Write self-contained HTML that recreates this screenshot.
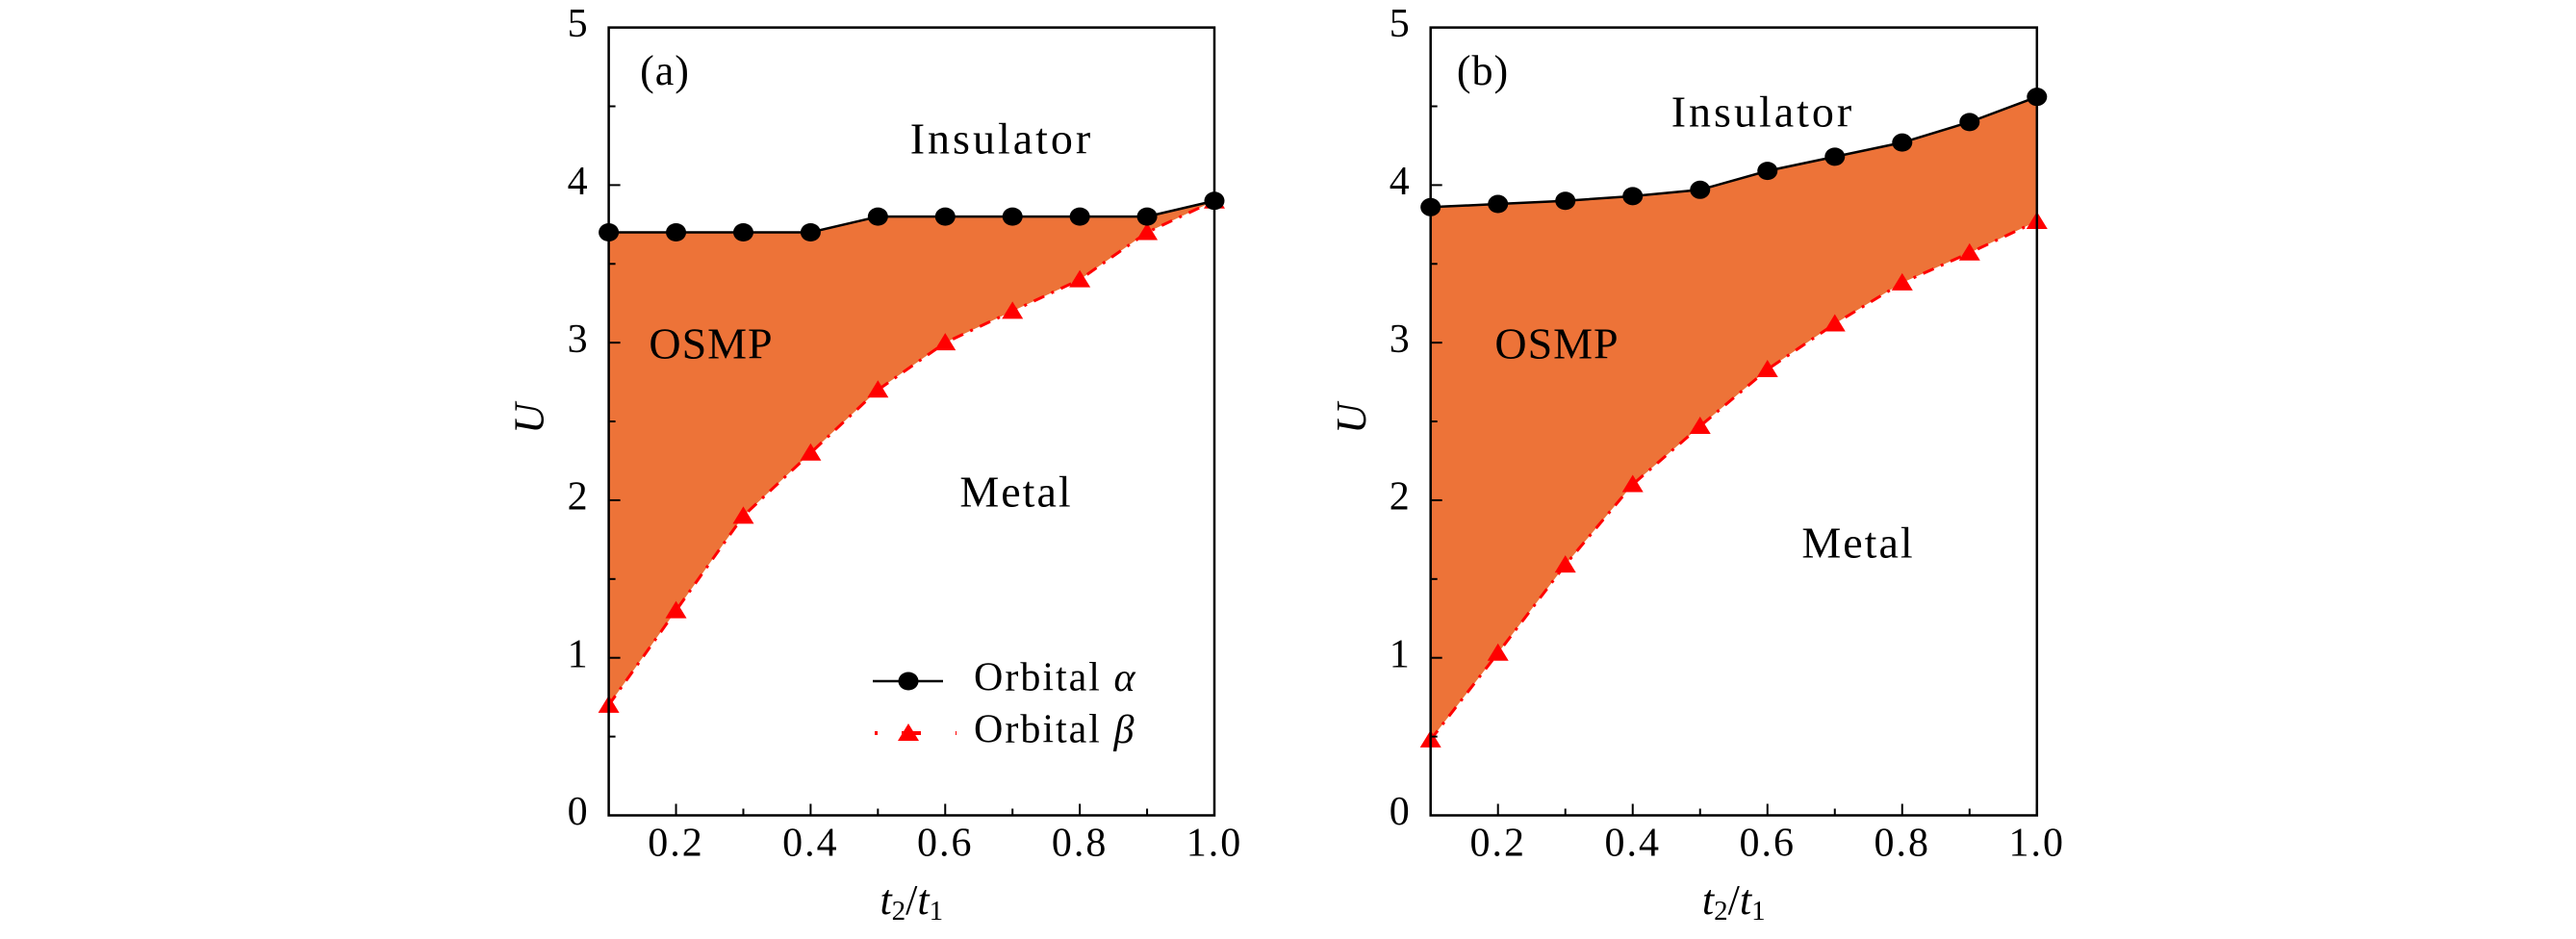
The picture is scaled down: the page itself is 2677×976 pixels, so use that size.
<!DOCTYPE html>
<html><head><meta charset="utf-8"><style>
html,body{margin:0;padding:0;background:#fff;}
svg{display:block;font-family:"Liberation Serif",serif;}
</style></head><body>
<svg id="chart" width="2677" height="976" viewBox="0 0 2677 976" xmlns="http://www.w3.org/2000/svg"></svg>
<script>
const categories = [0.1,0.2,0.3,0.4,0.5,0.6,0.7,0.8,0.9,1.0];
const alphaA = [3.7,3.7,3.7,3.7,3.8,3.8,3.8,3.8,3.8,3.9];
const betaA  = [0.7,1.3,1.9,2.3,2.7,3.0,3.2,3.4,3.7,3.9];
const alphaB = [3.86,3.88,3.9,3.93,3.97,4.09,4.18,4.27,4.4,4.56];
const betaB  = [0.48,1.03,1.59,2.1,2.47,2.83,3.12,3.38,3.57,3.77];
const xTicks = [0.2,0.4,0.6,0.8,1.0];
const xTickLabels = ["0.2","0.4","0.6","0.8","1.0"];
const yTicks = [0,1,2,3,4,5];
const yTickLabels = ["0","1","2","3","4","5"];

const NS="http://www.w3.org/2000/svg";
const svg=document.getElementById('chart');
function mk(tag,attrs,parent){const e=document.createElementNS(NS,tag);for(const k in attrs)e.setAttribute(k,attrs[k]);(parent||svg).appendChild(e);return e;}

function panel(id,left,right,alpha,beta,labels){
  const top=28.6,bottom=847.5;
  const xs=v=>left+(v-0.1)/(1.0-0.1)*(right-left);
  const ys=v=>bottom-v/5*(bottom-top);
  const g=mk('g',{});
  
  
  let d='M'+categories.map((c,i)=>xs(c)+','+ys(alpha[i])).join(' L');
  for(let i=categories.length-1;i>=0;i--) d+=' L'+xs(categories[i])+','+ys(beta[i]);
  d+=' Z';
  const f=mk('path',{d:d,fill:'#ED7338',stroke:'none'},g);
  
  
  const bl=mk('polyline',{points:categories.map((c,i)=>xs(c)+','+ys(beta[i])).join(' '),fill:'none',stroke:'#f00',"stroke-width":3,"stroke-dasharray":"12 8 3 8"},g);
  
  
  const al=mk('polyline',{points:categories.map((c,i)=>xs(c)+','+ys(alpha[i])).join(' '),fill:'none',stroke:'#000',"stroke-width":2.5},g);
  
  
  categories.forEach((c,i)=>{
    const x=xs(c),y=ys(beta[i]);
    const t=mk('polygon',{points:`${x},${y-10} ${x-11},${y+8} ${x+11},${y+8}`,fill:'#f00'},g);
    
    
  });
  categories.forEach((c,i)=>{
    const p=mk('ellipse',{cx:xs(c),cy:ys(alpha[i]),rx:10.5,ry:9.5,fill:'#000'},g);
    
    
  });
  const fr=mk('rect',{x:left,y:top,width:right-left,height:bottom-top,fill:'none',stroke:'#000',"stroke-width":2.5},g);
  
  
  for(let k=1;k<=9;k++){const v=0.1+k*0.1;const x=xs(v);mk('line',{x1:x,y1:bottom,x2:x,y2:bottom-(k%2===1?12:7),stroke:'#000',"stroke-width":2},g);}
  xTicks.forEach((v,i)=>{
    const t=mk('text',{x:xs(v),y:880,"font-size":42,"letter-spacing":2,"text-anchor":"middle","dominant-baseline":"middle"},g);
    t.textContent=xTickLabels[i];
    
    
  });
  for(let k=1;k<10;k++){const v=k*0.5;const y=ys(v);mk('line',{x1:left,y1:y,x2:left+(k%2===0?12:7),y2:y,stroke:'#000',"stroke-width":2},g);}
  yTicks.forEach((v,i)=>{
    const t=mk('text',{x:left-22,y:ys(v),"font-size":42,"text-anchor":"end","dominant-baseline":"middle"},g);
    t.textContent=yTickLabels[i];
    
    
  });
  const xt=mk('text',{x:(left+right)/2,y:940,"font-size":44,"font-style":"italic","text-anchor":"middle","dominant-baseline":"middle"},g);
  xt.innerHTML='t<tspan font-size="29" dy="9" font-style="normal">2</tspan><tspan dy="-9" font-style="normal">/</tspan>t<tspan font-size="29" dy="9" font-style="normal">1</tspan>';
  
  
  const yt=mk('text',{x:0,y:0,"font-size":44,"font-style":"italic","text-anchor":"middle","dominant-baseline":"middle",transform:`translate(${left-78},435) rotate(-90)`},g);
  yt.textContent='U';
  
  
  labels.forEach(l=>{
    const t=mk('text',{x:l[1],y:l[2],"font-size":l[3],"letter-spacing":l[5],"text-anchor":"middle","dominant-baseline":"middle"},g);
    t.textContent=l[0];
    
    
  });
}

panel('a',632.6,1262,alphaA,betaA,[
  ['(a)',691,78,44,'panel-label',1],
  ['Insulator',1041,149,46,'insulator-label',3],
  ['OSMP',739,362,46,'osmp-label',1],
  ['Metal',1056,516,46,'metal-label',2]]);
panel('b',1486.7,2116.8,alphaB,betaB,[
  ['(b)',1541,78,44,'panel-label',1],
  ['Insulator',1832,121,46,'insulator-label',3],
  ['OSMP',1618,362,46,'osmp-label',1],
  ['Metal',1931,569,46,'metal-label',2]]);

const lg=mk('g',{});


mk('line',{x1:907,y1:708,x2:980,y2:708,stroke:'#000',"stroke-width":2.5},lg);
mk('ellipse',{cx:944,cy:708,rx:10.5,ry:9.5,fill:'#000'},lg);
mk('line',{x1:909,y1:762,x2:994,y2:762,stroke:'#f00',"stroke-width":4,"stroke-dasharray":"3 25 20 36 3 100"},lg);
mk('polygon',{points:'944,752 933,770 955,770',fill:'#f00'},lg);
const la=mk('text',{x:1012,y:708,"font-size":42,"letter-spacing":2,"dominant-baseline":"middle"},lg);
la.innerHTML='Orbital <tspan font-style="italic">α</tspan>';


const lb=mk('text',{x:1012,y:762,"font-size":42,"letter-spacing":2,"dominant-baseline":"middle"},lg);
lb.innerHTML='Orbital <tspan font-style="italic">β</tspan>';


</script>
</body></html>
